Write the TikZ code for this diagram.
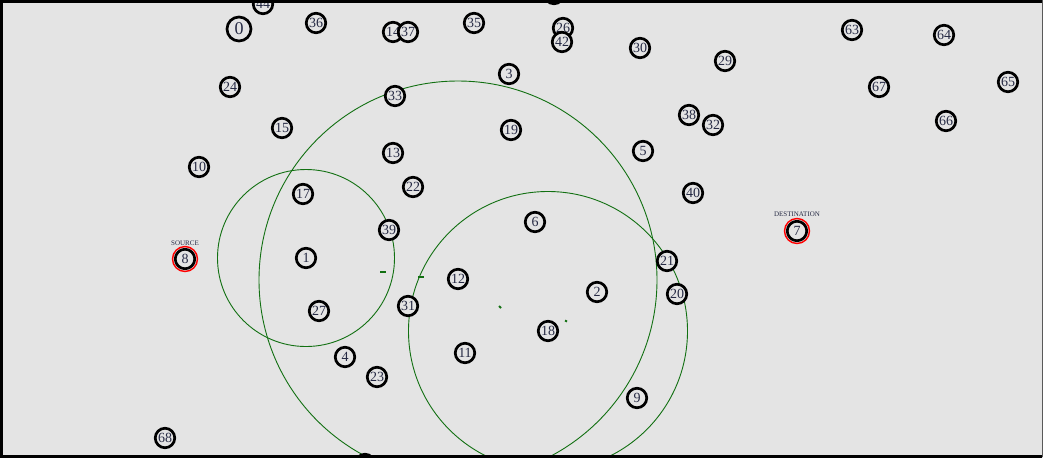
\documentclass[tikz,border=0pt]{standalone}
\usepackage{fontspec}
\setmainfont{Liberation Serif}
\usepackage{xcolor}
\usetikzlibrary{positioning}

\definecolor{canvas}{RGB}{228,228,228}
\definecolor{labelink}{RGB}{38,42,68}
\definecolor{rangegreen}{RGB}{18,112,18}

\begin{document}
\begin{tikzpicture}[x=1pt, y=-1pt,
  mote/.style={circle, draw, line width=2.7pt, fill=canvas, minimum size=19.5pt, inner sep=0pt,
    text=labelink, font=\fontsize{14}{14}\selectfont},
  bigmote/.style={mote, minimum size=24pt, font=\fontsize{18}{18}\selectfont},
  endring/.style={draw=red, line width=1.4pt},
  tag/.style={inner sep=0pt, text=labelink, font=\fontsize{7}{7}\selectfont},
  txrange/.style={draw=rangegreen, line width=0.9pt},
  packet/.style={draw=rangegreen, line width=2pt},
]
\useasboundingbox (0,0) rectangle (1045,459);
\fill[white] (0,0) rectangle (1045,459);
\fill[canvas] (0,0) rectangle (1043,458);
\begin{scope}
\clip (2,2) rectangle (1042,456);
% transmission ranges
\draw[txrange] (306,258) circle[radius=88.5pt];
\draw[txrange] (458,280) circle[radius=199pt];
\draw[txrange] (548,331) circle[radius=139.5pt];
% packets in flight
\draw[packet] (380,271.5) -- (386,271.5);
\draw[packet] (418,277) -- (424,277);
\draw[packet] (499,306) -- (501,308);
\draw[packet] (565,320.5) -- (567,321.5);
% nodes
\node[mote] (n44) at (263,4) {44};
\node[mote] (ntop) at (554,-6) {};
\node[bigmote] (n0) at (239,29) {0};
\node[mote] (n36) at (316,23) {36};
\node[mote] (n14) at (393,32) {14};
\node[mote] (n37) at (408,32) {37};
\node[mote] (n35) at (474,23) {35};
\node[mote] (n26) at (563,28) {26};
\node[mote] (n42) at (562,42) {42};
\node[mote] (n30) at (640,48) {30};
\node[mote] (n3) at (509,74) {3};
\node[mote] (n29) at (725,61) {29};
\node[mote] (n63) at (852,30) {63};
\node[mote] (n64) at (944,35) {64};
\node[mote] (n65) at (1008,82) {65};
\node[mote] (n67) at (879,87) {67};
\node[mote] (n66) at (946,121) {66};
\node[mote] (n38) at (689,115) {38};
\node[mote] (n32) at (713,125) {32};
\node[mote] (n24) at (230,87) {24};
\node[mote] (n33) at (395,96) {33};
\node[mote] (n15) at (282,128) {15};
\node[mote] (n19) at (511,130) {19};
\node[mote] (n13) at (393,153) {13};
\node[mote] (n5) at (643,151) {5};
\node[mote] (n10) at (199,167) {10};
\node[mote] (n22) at (413,187) {22};
\node[mote] (n40) at (693,193) {40};
\node[mote] (n17) at (303,194) {17};
\node[mote] (n6) at (535,222) {6};
\node[mote] (n39) at (389,230) {39};
\node[mote] (n1) at (306,258) {1};
\node[mote] (n21) at (667,261) {21};
\node[mote] (n12) at (458,279) {12};
\node[mote] (n2) at (597,292) {2};
\node[mote] (n20) at (677,294) {20};
\node[mote] (n31) at (408,306) {31};
\node[mote] (n27) at (319,311) {27};
\node[mote] (n18) at (548,331) {18};
\node[mote] (n11) at (465,353) {11};
\node[mote] (n4) at (345,357) {4};
\node[mote] (n23) at (377,377) {23};
\node[mote] (n9) at (637,398) {9};
\node[mote] (n68) at (165,438) {68};
\node[mote] (nbottom) at (365,464) {};
% source and destination
\node[mote] (n8) at (185,259) {8};
\draw[endring] (n8.center) circle[radius=12.5pt];
\node[tag] (src) at (185,243) {SOURCE};
\node[mote] (n7) at (797,231) {7};
\draw[endring] (n7.center) circle[radius=12.5pt];
\node[tag] (dst) at (797,214) {DESTINATION};
\end{scope}
% frame
\draw[line width=3pt] (1042,1.5) -- (1.5,1.5) -- (1.5,456.5) -- (1042,456.5);
\draw[line width=1pt, black!65] (1042.5,0) -- (1042.5,457);
\end{tikzpicture}
\end{document}
